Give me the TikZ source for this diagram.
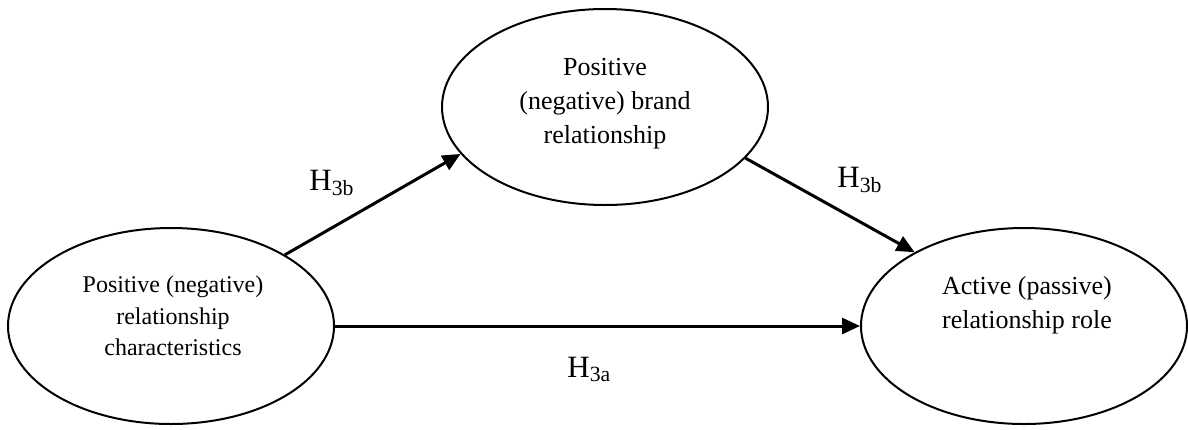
\documentclass[tikz,border=0pt]{standalone}
\usepackage{fontspec}
\setmainfont{Liberation Serif}
\usetikzlibrary{arrows.meta,shapes.geometric}
\begin{document}
\begin{tikzpicture}[x=0.5pt,y=-0.5pt,
  construct/.style={draw=black, line width=1pt, ellipse, inner sep=0pt,
    minimum width=163pt, minimum height=98pt},
  caption/.style={align=center, font=\fontsize{13}{17}\selectfont, inner sep=0pt},
  smallcaption/.style={caption, font=\fontsize{12}{15.8}\selectfont},
  hpath/.style={line width=1.5pt, -{Triangle[length=9pt,width=8pt]}},
  hyp/.style={font=\fontsize{15.5}{18}\selectfont, inner sep=0pt, anchor=base west}]
\useasboundingbox (0,0) rectangle (1188,429);

% the three constructs
\node[construct] (chr) at (171,326) {};
\node[construct] (brd) at (605,107) {};
\node[construct] (rol) at (1024,326) {};

\node[smallcaption] (chrT) at (173,316) {Positive (negative)\\relationship\\characteristics};
\node[caption] (brdT) at (605,104) {Positive\\(negative) brand\\relationship};
\node[caption] (rolT) at (1027,305) {Active (passive)\\relationship role};

% hypothesised paths
\draw[hpath] (chr.32) -- (brd.198);
\draw[hpath] (brd.340) -- (rol.146);
\draw[hpath] (chr.east) -- (rol.west);

% hypothesis labels
\node[hyp] (h1) at (309,190) {H\textsubscript{3b}};
\node[hyp] (h2) at (837,187) {H\textsubscript{3b}};
\node[hyp] (h3) at (567,377) {H\textsubscript{3a}};
\end{tikzpicture}
\end{document}
